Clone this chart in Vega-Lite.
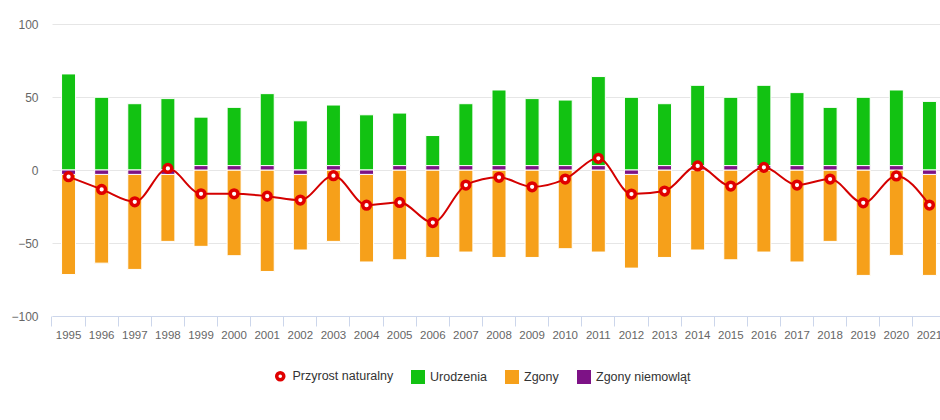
{
  "$schema": "https://vega.github.io/schema/vega-lite/v6.json",
  "autosize": {"type": "none"},
  "width": 888,
  "height": 292,
  "padding": {"left": 52, "top": 24, "right": 0, "bottom": 104},
  "config": {
    "view": {"stroke": null},
    "font": "Liberation Sans, Arial, sans-serif",
    "legend": {"labelFontSize": 12.5, "labelColor": "#333333", "labelFont": "Liberation Sans, Arial, sans-serif"}
  },
  "datasets": {
    "bars": [
      {"year": 1995, "series": "Urodzenia", "value": 65.8}, {"year": 1995, "series": "Zgony", "value": -68.6}, {"year": 1995, "series": "Zgony niemowląt", "value": -3},
      {"year": 1996, "series": "Urodzenia", "value": 49.8}, {"year": 1996, "series": "Zgony", "value": -60.8}, {"year": 1996, "series": "Zgony niemowląt", "value": -3},
      {"year": 1997, "series": "Urodzenia", "value": 45.4}, {"year": 1997, "series": "Zgony", "value": -65.1}, {"year": 1997, "series": "Zgony niemowląt", "value": -3},
      {"year": 1998, "series": "Urodzenia", "value": 48.9}, {"year": 1998, "series": "Zgony", "value": -45.9}, {"year": 1998, "series": "Zgony niemowląt", "value": -3},
      {"year": 1999, "series": "Urodzenia", "value": 33.2}, {"year": 1999, "series": "Zgony", "value": -52.3}, {"year": 1999, "series": "Zgony niemowląt", "value": 3},
      {"year": 2000, "series": "Urodzenia", "value": 39.9}, {"year": 2000, "series": "Zgony", "value": -58.7}, {"year": 2000, "series": "Zgony niemowląt", "value": 3},
      {"year": 2001, "series": "Urodzenia", "value": 49.3}, {"year": 2001, "series": "Zgony", "value": -69.5}, {"year": 2001, "series": "Zgony niemowląt", "value": 3},
      {"year": 2002, "series": "Urodzenia", "value": 33.7}, {"year": 2002, "series": "Zgony", "value": -51.8}, {"year": 2002, "series": "Zgony niemowląt", "value": -3},
      {"year": 2003, "series": "Urodzenia", "value": 41.5}, {"year": 2003, "series": "Zgony", "value": -48.9}, {"year": 2003, "series": "Zgony niemowląt", "value": 3},
      {"year": 2004, "series": "Urodzenia", "value": 37.8}, {"year": 2004, "series": "Zgony", "value": -60.0}, {"year": 2004, "series": "Zgony niemowląt", "value": -3},
      {"year": 2005, "series": "Urodzenia", "value": 36.0}, {"year": 2005, "series": "Zgony", "value": -61.5}, {"year": 2005, "series": "Zgony niemowląt", "value": 3},
      {"year": 2006, "series": "Urodzenia", "value": 20.6}, {"year": 2006, "series": "Zgony", "value": -59.9}, {"year": 2006, "series": "Zgony niemowląt", "value": 3},
      {"year": 2007, "series": "Urodzenia", "value": 42.4}, {"year": 2007, "series": "Zgony", "value": -56.2}, {"year": 2007, "series": "Zgony niemowląt", "value": 3},
      {"year": 2008, "series": "Urodzenia", "value": 51.8}, {"year": 2008, "series": "Zgony", "value": -59.9}, {"year": 2008, "series": "Zgony niemowląt", "value": 3},
      {"year": 2009, "series": "Urodzenia", "value": 45.9}, {"year": 2009, "series": "Zgony", "value": -59.9}, {"year": 2009, "series": "Zgony niemowląt", "value": 3},
      {"year": 2010, "series": "Urodzenia", "value": 44.9}, {"year": 2010, "series": "Zgony", "value": -53.9}, {"year": 2010, "series": "Zgony niemowląt", "value": 3},
      {"year": 2011, "series": "Urodzenia", "value": 61.0}, {"year": 2011, "series": "Zgony", "value": -56.2}, {"year": 2011, "series": "Zgony niemowląt", "value": 3},
      {"year": 2012, "series": "Urodzenia", "value": 49.8}, {"year": 2012, "series": "Zgony", "value": -64.2}, {"year": 2012, "series": "Zgony niemowląt", "value": -3},
      {"year": 2013, "series": "Urodzenia", "value": 42.4}, {"year": 2013, "series": "Zgony", "value": -59.9}, {"year": 2013, "series": "Zgony niemowląt", "value": 3},
      {"year": 2014, "series": "Urodzenia", "value": 55.0}, {"year": 2014, "series": "Zgony", "value": -54.8}, {"year": 2014, "series": "Zgony niemowląt", "value": 3},
      {"year": 2015, "series": "Urodzenia", "value": 46.8}, {"year": 2015, "series": "Zgony", "value": -61.5}, {"year": 2015, "series": "Zgony niemowląt", "value": 3},
      {"year": 2016, "series": "Urodzenia", "value": 55.0}, {"year": 2016, "series": "Zgony", "value": -56.2}, {"year": 2016, "series": "Zgony niemowląt", "value": 3},
      {"year": 2017, "series": "Urodzenia", "value": 50.0}, {"year": 2017, "series": "Zgony", "value": -63.0}, {"year": 2017, "series": "Zgony niemowląt", "value": 3},
      {"year": 2018, "series": "Urodzenia", "value": 39.9}, {"year": 2018, "series": "Zgony", "value": -48.9}, {"year": 2018, "series": "Zgony niemowląt", "value": 3},
      {"year": 2019, "series": "Urodzenia", "value": 46.8}, {"year": 2019, "series": "Zgony", "value": -72.2}, {"year": 2019, "series": "Zgony niemowląt", "value": 3},
      {"year": 2020, "series": "Urodzenia", "value": 51.8}, {"year": 2020, "series": "Zgony", "value": -58.5}, {"year": 2020, "series": "Zgony niemowląt", "value": 3},
      {"year": 2021, "series": "Urodzenia", "value": 47.0}, {"year": 2021, "series": "Zgony", "value": -69.2}, {"year": 2021, "series": "Zgony niemowląt", "value": -3}
    ],
    "line": [
      {"year": 1995, "series": "Przyrost naturalny", "value": -4.6}, {"year": 1996, "series": "Przyrost naturalny", "value": -13.3}, {"year": 1997, "series": "Przyrost naturalny", "value": -21.8},
      {"year": 1998, "series": "Przyrost naturalny", "value": 1.1}, {"year": 1999, "series": "Przyrost naturalny", "value": -16.3}, {"year": 2000, "series": "Przyrost naturalny", "value": -16.3},
      {"year": 2001, "series": "Przyrost naturalny", "value": -17.9}, {"year": 2002, "series": "Przyrost naturalny", "value": -20.6}, {"year": 2003, "series": "Przyrost naturalny", "value": -3.9},
      {"year": 2004, "series": "Przyrost naturalny", "value": -24.1}, {"year": 2005, "series": "Przyrost naturalny", "value": -22.2}, {"year": 2006, "series": "Przyrost naturalny", "value": -36.0},
      {"year": 2007, "series": "Przyrost naturalny", "value": -10.3}, {"year": 2008, "series": "Przyrost naturalny", "value": -5.0}, {"year": 2009, "series": "Przyrost naturalny", "value": -11.5},
      {"year": 2010, "series": "Przyrost naturalny", "value": -6.2}, {"year": 2011, "series": "Przyrost naturalny", "value": 8.0}, {"year": 2012, "series": "Przyrost naturalny", "value": -16.5},
      {"year": 2013, "series": "Przyrost naturalny", "value": -14.4}, {"year": 2014, "series": "Przyrost naturalny", "value": 2.8}, {"year": 2015, "series": "Przyrost naturalny", "value": -11.0},
      {"year": 2016, "series": "Przyrost naturalny", "value": 1.8}, {"year": 2017, "series": "Przyrost naturalny", "value": -10.3}, {"year": 2018, "series": "Przyrost naturalny", "value": -6.2},
      {"year": 2019, "series": "Przyrost naturalny", "value": -22.5}, {"year": 2020, "series": "Przyrost naturalny", "value": -4.1}, {"year": 2021, "series": "Przyrost naturalny", "value": -24.0}
    ]
  },
  "encoding": {
    "x": {
      "field": "year",
      "type": "ordinal",
      "scale": {"range": [0, 894], "paddingInner": 0, "paddingOuter": 0},
      "axis": {
        "title": null,
        "labelAngle": 0,
        "bandPosition": 0,
        "domainColor": "#ccd6eb",
        "tickColor": "#ccd6eb",
        "tickSize": 10,
        "labelPadding": 3,
        "labelFontSize": 11.5,
        "labelColor": "#666666",
        "grid": false,
        "zindex": 1
      }
    }
  },
  "layer": [
    {
      "data": {"name": "bars"},
      "mark": {"type": "bar", "width": 14, "stroke": "white", "strokeWidth": 1},
      "encoding": {
        "y": {
          "field": "value",
          "type": "quantitative",
          "stack": "zero",
          "scale": {"domain": [-100, 100], "nice": false},
          "axis": {
            "title": null,
            "values": [-100, -50, 0, 50, 100],
            "domain": false,
            "ticks": false,
            "gridColor": "#e6e6e6",
            "labelPadding": 14,
            "labelFontSize": 12,
            "labelColor": "#666666"
          }
        },
        "color": {
          "field": "series",
          "type": "nominal",
          "scale": {
            "domain": ["Urodzenia", "Zgony", "Zgony niemowląt"],
            "range": ["#12c212", "#f6a01a", "#7d1286"]
          },
          "legend": {
            "title": null,
            "orient": "none",
            "direction": "horizontal",
            "legendX": 359,
            "legendY": 346,
            "symbolType": "square",
            "symbolSize": 196,
            "symbolStrokeWidth": 0,
            "labelOffset": 5,
            "columnPadding": 18
          }
        },
        "order": {"field": "series", "sort": "descending"}
      }
    },
    {
      "data": {"name": "line"},
      "mark": {"type": "line", "interpolate": "monotone", "strokeWidth": 2, "color": "#d40000"},
      "encoding": {
        "y": {"field": "value", "type": "quantitative"}
      }
    },
    {
      "data": {"name": "line"},
      "mark": {"type": "point", "filled": true, "fill": "#ffffff", "stroke": "#e00000", "strokeWidth": 3.5, "size": 60, "opacity": 1},
      "encoding": {
        "y": {"field": "value", "type": "quantitative"},
        "shape": {
          "field": "series",
          "type": "nominal",
          "scale": {"range": ["circle"]},
          "legend": {
            "title": null,
            "orient": "none",
            "direction": "horizontal",
            "legendX": 222,
            "legendY": 346,
            "symbolSize": 50,
            "symbolStrokeWidth": 3.5,
            "labelOffset": 6,
            "encode": {
              "symbols": {
                "fill": {"value": "#ffffff"},
                "stroke": {"value": "#e00000"},
                "strokeWidth": {"value": 3.5},
                "opacity": {"value": 1}
              }
            }
          }
        }
      }
    }
  ]
}
